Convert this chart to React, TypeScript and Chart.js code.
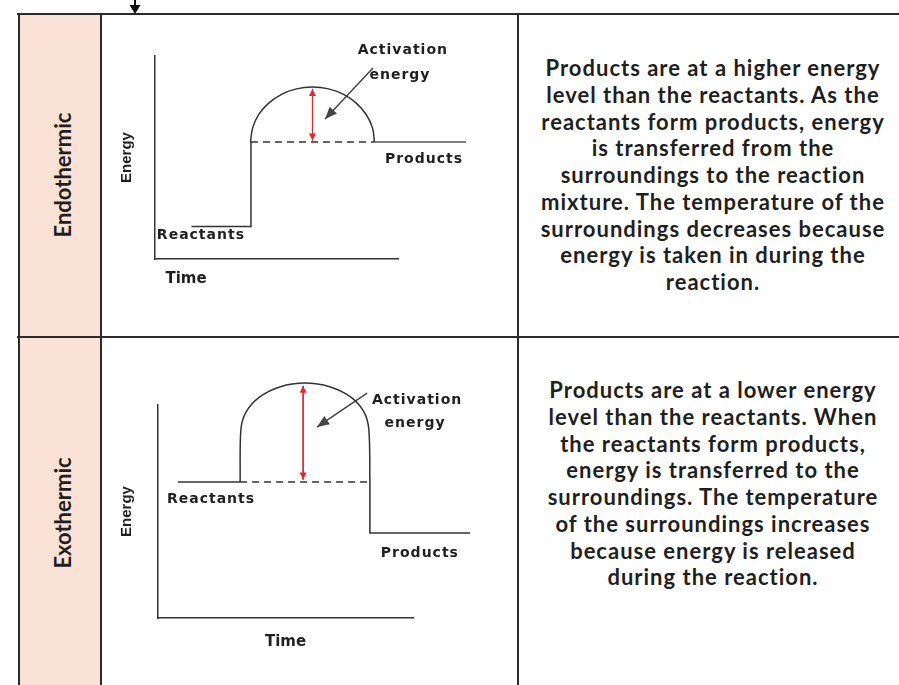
import React, { useEffect, useRef } from "react";
import { Chart, registerables } from "chart.js";

Chart.register(...registerables);

type Pt = [number, number];

// ---------- Endothermic energy profile (x = time, y = energy, arbitrary units) ----------
const endoReactantStep: Pt[] = [[1.5, 1.6], [3.95, 1.6], [3.95, 5.76]];
const endoHump: Pt[] = [
  [3.93, 5.76], [4.02, 6.46], [4.27, 7.12], [4.68, 7.68], [5.21, 8.11], [5.82, 8.38], [6.48, 8.47],
  [7.14, 8.38], [7.76, 8.11], [8.28, 7.68], [8.69, 7.12], [8.95, 6.46], [9.03, 5.76],
];
const endoProducts: Pt[] = [[9.03, 5.76], [12.8, 5.76]];
const endoDashed: Pt[] = [[3.95, 5.76], [9.03, 5.76]];
const endoActivation: Pt[] = [[6.48, 8.38], [6.48, 5.84]];
const endoPointer: Pt[] = [[8.97, 9.41], [7.0, 6.9]];
const endoLabelText = ["Activation", "energy", "Products", "Reactants"];
const endoLabelX = [10.2, 10.08, 11.07, 1.89];
const endoLabelY = [10.3, 9.06, 4.93, 1.18];

// ---------- Exothermic energy profile ----------
const exoReactants: Pt[] = [[0.78, 6.38], [3.22, 6.38]];
const exoHump: Pt[] = [
  [3.22, 6.38], [3.25, 8.83], [3.45, 9.67], [3.99, 10.38], [4.8, 10.86], [5.76, 11.03],
  [6.73, 10.86], [7.55, 10.38], [8.08, 9.67], [8.27, 8.83], [8.31, 6.38],
];
const exoProductStep: Pt[] = [[8.31, 6.38], [8.31, 3.99], [12.24, 3.99]];
const exoDashed: Pt[] = [[3.22, 6.38], [8.31, 6.38]];
const exoActivation: Pt[] = [[5.69, 10.9], [5.69, 6.5]];
const exoPointer: Pt[] = [[8.2, 10.56], [6.24, 8.97]];
const exoLabelText = ["Activation", "energy", "Reactants", "Products"];
const exoLabelX = [10.16, 10.08, 2.08, 10.27];
const exoLabelY = [10.23, 9.15, 5.59, 3.05];

const axisMin = 0;
const axisMax = 10;

// ---------- Table text ----------
const rowTitles = ["Endothermic", "Exothermic"];
const endoText = [
  "Products are at a higher energy",
  "level than the reactants. As the",
  "reactants form products, energy",
  "is transferred from the",
  "surroundings to the reaction",
  "mixture. The temperature of the",
  "surroundings decreases because",
  "energy is taken in during the",
  "reaction.",
];
const exoText = [
  "Products are at a lower energy",
  "level than the reactants. When",
  "the reactants form products,",
  "energy is transferred to the",
  "surroundings. The temperature",
  "of the surroundings increases",
  "because energy is released",
  "during the reaction.",
];

const INK = "#333333";
const RED = "#e3262b";
const TEXT = "#1f1f1f";

function seg(points: Pt[], extra: Record<string, unknown> = {}) {
  return {
    data: points.map(([x, y]) => ({ x, y })),
    borderColor: INK,
    borderWidth: 1.5,
    pointRadius: 0,
    tension: 0,
    fill: false,
    clip: false,
    ...extra,
  };
}

function makeOverlay(text: string[], lx: number[], ly: number[]) {
  return {
    id: "diagramOverlay",
    afterDatasetsDraw(chart: any) {
      const ctx = chart.ctx as CanvasRenderingContext2D;
      const sx = chart.scales.x;
      const sy = chart.scales.y;
      ctx.save();
      const head = (tip: any, from: any, len: number, half: number, color: string) => {
        const a = Math.atan2(tip.y - from.y, tip.x - from.x);
        const bx = tip.x - len * Math.cos(a);
        const by = tip.y - len * Math.sin(a);
        ctx.beginPath();
        ctx.moveTo(tip.x, tip.y);
        ctx.lineTo(bx - half * Math.sin(a), by + half * Math.cos(a));
        ctx.lineTo(bx + half * Math.sin(a), by - half * Math.cos(a));
        ctx.closePath();
        ctx.fillStyle = color;
        ctx.fill();
      };
      chart.data.datasets.forEach((ds: any, i: number) => {
        if (!ds.heads) return;
        const pts = chart.getDatasetMeta(i).data;
        const n = pts.length;
        head(pts[n - 1], pts[n - 2], ds.headLen, ds.headHalf, ds.borderColor);
        if (ds.heads === "both") head(pts[0], pts[1], ds.headLen, ds.headHalf, ds.borderColor);
      });
      ctx.font = 'bold 14px "DejaVu Sans"';
      (ctx as any).letterSpacing = "1px";
      ctx.textAlign = "center";
      ctx.textBaseline = "middle";
      ctx.fillStyle = TEXT;
      text.forEach((t, k) => {
        ctx.fillText(t, sx.getPixelForValue(lx[k]), sy.getPixelForValue(ly[k]));
      });
      ctx.restore();
    },
  };
}

type DiagramProps = {
  left: number;
  top: number;
  width: number;
  height: number;
  padding: { left: number; right: number; top: number; bottom: number };
  xTitlePad: number;
  yTitlePad: number;
  xAlign: "start" | "center";
  xText: string;
  datasets: any[];
  overlay: any;
};

function Diagram(p: DiagramProps) {
  const ref = useRef<HTMLCanvasElement>(null);
  useEffect(() => {
    const chart = new Chart(ref.current as HTMLCanvasElement, {
      type: "line",
      data: { datasets: p.datasets },
      options: {
        responsive: false,
        animation: false,
        events: [],
        layout: { padding: p.padding },
        plugins: { legend: { display: false }, tooltip: { enabled: false } },
        scales: {
          x: {
            type: "linear",
            min: axisMin,
            max: axisMax,
            grid: { display: false, drawTicks: false },
            ticks: { display: false },
            border: { display: true, color: INK, width: 1.5 },
            title: {
              display: true,
              text: p.xText,
              align: p.xAlign,
              color: TEXT,
              font: { family: "DejaVu Sans", size: 15, weight: "bold" },
              padding: { top: p.xTitlePad, bottom: 0 },
            },
          },
          y: {
            type: "linear",
            min: axisMin,
            max: axisMax,
            grid: { display: false, drawTicks: false },
            ticks: { display: false },
            border: { display: true, color: INK, width: 1.5 },
            title: {
              display: true,
              text: "Energy",
              color: TEXT,
              font: { family: "Liberation Sans", size: 15, weight: "bold" },
              padding: { top: 0, bottom: p.yTitlePad },
            },
          },
        },
      } as any,
      plugins: [p.overlay],
    });
    return () => chart.destroy();
  }, []);
  return (
    <canvas
      ref={ref}
      width={p.width}
      height={p.height}
      style={{ position: "absolute", left: p.left, top: p.top, width: p.width, height: p.height }}
    />
  );
}

const endoDatasets = [
  seg(endoReactantStep),
  seg(endoHump, { tension: 0.4 }),
  seg(endoProducts, { borderColor: "#555" }),
  seg(endoDashed, { borderDash: [7, 5] }),
  seg(endoActivation, { borderColor: RED, borderWidth: 1, heads: "both", headLen: 7, headHalf: 3.5 }),
  seg(endoPointer, { borderColor: "#444", borderWidth: 1.5, heads: "end", headLen: 12, headHalf: 5 }),
];

const exoDatasets = [
  seg(exoReactants),
  seg(exoHump, { tension: 0.3 }),
  seg(exoProductStep),
  seg(exoDashed, { borderDash: [7, 5] }),
  seg(exoActivation, { borderColor: RED, borderWidth: 1, heads: "both", headLen: 7, headHalf: 3.5 }),
  seg(exoPointer, { borderColor: "#444", borderWidth: 1.5, heads: "end", headLen: 12, headHalf: 5 }),
];

const endoOverlay = makeOverlay(endoLabelText, endoLabelX, endoLabelY);
const exoOverlay = makeOverlay(exoLabelText, exoLabelX, exoLabelY);

const lineColor = "#2b2b2b";
const rule = (left: number, top: number, width: number, height: number) => (
  <div style={{ position: "absolute", left, top, width, height, background: lineColor }} />
);

const rotated = (text: string, cx: number, cy: number) => (
  <div
    style={{
      position: "absolute",
      left: cx,
      top: cy,
      transform: "translate(-50%, -50%) rotate(-90deg)",
      whiteSpace: "nowrap",
      font: "bold 22px Lato",
      color: TEXT,
    }}
  >
    {text}
  </div>
);

const paragraph = (lines: string[], top: number) => (
  <div
    style={{
      position: "absolute",
      left: 513,
      top,
      width: 400,
      textAlign: "center",
      font: "bold 22px Lato",
      letterSpacing: "1px",
      lineHeight: "26.75px",
      color: TEXT,
    }}
  >
    {lines.map((l, i) => (
      <div key={i} style={{ whiteSpace: "nowrap" }}>
        {l}
      </div>
    ))}
  </div>
);

export default function App() {
  return (
    <div
      style={{
        position: "absolute",
        left: 0,
        top: 0,
        width: 899,
        height: 685,
        overflow: "hidden",
        background: "#ffffff",
      }}
    >
      <div style={{ position: "absolute", left: 20, top: 15, width: 80, height: 670, background: "#fae3d6" }} />
      {rule(17, 13, 882, 2)}
      {rule(18, 13, 2, 672)}
      {rule(100, 13, 2, 672)}
      {rule(517, 13, 2, 672)}
      {rule(17, 336, 882, 2)}
      <svg style={{ position: "absolute", left: 128, top: 0 }} width={14} height={16}>
        <line x1={7} y1={0} x2={7} y2={7} stroke="#111" strokeWidth={2} />
        <polygon points="1.5,5 12.5,5 7,14" fill="#111" />
      </svg>
      {rotated(rowTitles[0], 62, 175)}
      {rotated(rowTitles[1], 62, 513)}
      {paragraph(endoText, 55)}
      {paragraph(exoText, 377)}
      <Diagram
        left={105}
        top={20}
        width={410}
        height={300}
        padding={{ left: 13, right: 117, top: 36, bottom: 32 }}
        xTitlePad={11}
        yTitlePad={19}
        xAlign="start"
        xText="  Time"
        datasets={endoDatasets}
        overlay={endoOverlay}
      />
      <Diagram
        left={105}
        top={345}
        width={410}
        height={330}
        padding={{ left: 13, right: 102, top: 60, bottom: 24 }}
        xTitlePad={15}
        yTitlePad={22}
        xAlign="center"
        xText="Time"
        datasets={exoDatasets}
        overlay={exoOverlay}
      />
    </div>
  );
}
